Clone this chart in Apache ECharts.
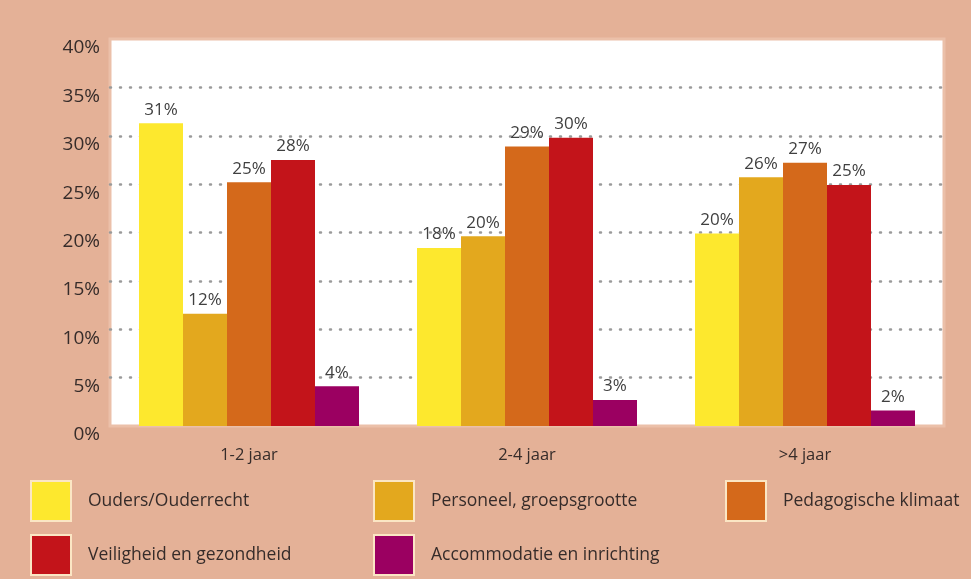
<!DOCTYPE html>
<html>
<head>
<meta charset="utf-8">
<script src="https://cdn.jsdelivr.net/npm/echarts@6/dist/echarts.min.js"></script>
<style>
  html, body { margin: 0; padding: 0; background: #e4b197; }
  #chart { width: 971px; height: 579px; }
</style>
</head>
<body>
<div id="chart"></div>
<script>
// categorieen en waarden
var categories = ['1-2 jaar', '2-4 jaar', '>4 jaar'];
var seriesNames = ['Ouders/Ouderrecht', 'Personeel, groepsgrootte', 'Pedagogische klimaat',
                   'Veiligheid en gezondheid', 'Accommodatie en inrichting'];
var ouders = [31.3, 18.4, 19.9];
var personeel = [11.6, 19.6, 25.7];
var klimaat = [25.2, 28.9, 27.2];
var veiligheid = [27.5, 29.8, 24.9];
var accommodatie = [4.1, 2.7, 1.6];
var colors = ['#fde82e', '#e3a81e', '#d4691b', '#c3141a', '#9b0061'];

var textColor = '#362c2a';
var font = 'Open Sans';

var chart = echarts.init(document.getElementById('chart'));

function makeSeries(name, data, color) {
    return {
        name: name,
        type: 'bar',
        data: data,
        barWidth: 44,
        barGap: '0%',
        itemStyle: {color: color},
        label: {
            show: true,
            position: 'top',
            distance: 5,
            color: '#404040',
            fontFamily: font,
            fontSize: 17,
            formatter: function (p) { return Math.round(p.value) + '%'; }
        }
    };
}

// een legenda per item, zodat elk op zijn eigen plek staat
var legendPos = [[25, 475], [368, 475], [720, 475], [25, 529], [368, 529]];
var legends = seriesNames.map(function (n, i) {
    return {
        data: [n],
        left: legendPos[i][0],
        top: legendPos[i][1],
        icon: 'rect',
        itemWidth: 40,
        itemHeight: 40,
        itemStyle: {borderColor: '#fbe6c4', borderWidth: 2},
        selectedMode: false,
        textStyle: {color: textColor, fontFamily: font, fontSize: 17.5, padding: [0, 0, 0, 12]}
    };
});

chart.setOption({
    backgroundColor: '#e4b197',
    animation: false,
    grid: {
        left: 110,
        right: 27,
        top: 39,
        bottom: 153,
        show: true,
        backgroundColor: '#fff',
        borderColor: '#ebc0a9',
        borderWidth: 3
    },
    legend: legends,
    xAxis: {
        type: 'category',
        data: categories,
        axisLine: {show: false},
        axisTick: {show: false},
        axisLabel: {color: textColor, fontFamily: font, fontSize: 16.5, margin: 21}
    },
    yAxis: {
        type: 'value',
        min: 0,
        max: 40,
        interval: 5,
        axisLine: {show: false},
        axisTick: {show: false},
        axisLabel: {
            color: textColor,
            fontFamily: font,
            fontSize: 19,
            margin: 10,
            verticalAlign: 'top',
            lineHeight: 18,
            formatter: '{value}%'
        },
        splitLine: {
            show: true,
            showMinLine: false,
            showMaxLine: false,
            lineStyle: {color: '#9a9a9a', width: 2.5, type: [1, 9], cap: 'round'}
        }
    },
    series: [
        makeSeries(seriesNames[0], ouders, colors[0]),
        makeSeries(seriesNames[1], personeel, colors[1]),
        makeSeries(seriesNames[2], klimaat, colors[2]),
        makeSeries(seriesNames[3], veiligheid, colors[3]),
        makeSeries(seriesNames[4], accommodatie, colors[4])
    ]
});
</script>
</body>
</html>
